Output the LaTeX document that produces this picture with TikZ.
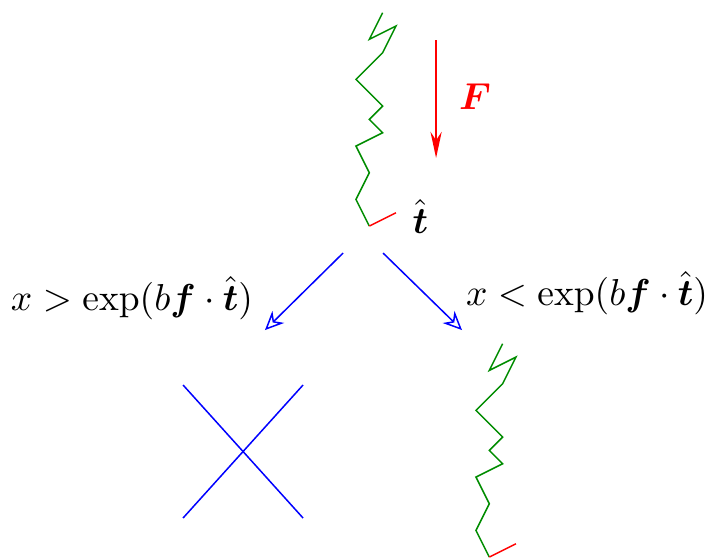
\documentclass[tikz,border=0pt]{standalone}
\usepackage{amsmath}
\usetikzlibrary{arrows.meta}
\definecolor{chain}{RGB}{0,140,0}

\newcommand{\polymer}{%
  \draw[chain] (0,0) -- (-1,2) -- (0,4) -- (-1,6) -- (1,7) -- (0,8) -- (1,9)
    -- (-1,11) -- (1,13) -- (2,15) -- (0,14) -- (1,16);
  \draw[red] (0,0) -- (2,1);}

\begin{document}
\begin{tikzpicture}[
    force/.style={-{Stealth[length=7pt,width=3pt]}, red},
    branch/.style={-{Stealth[open,length=5pt,width=4.5pt]}, blue},
    lbl/.style={inner sep=0pt}]
  \useasboundingbox (0,0) rectangle (6.656,-5.222);

  % -- chain under load ------------------------------------
  \begin{scope}[shift={(3.462,-2.119)}, x=0.125cm, y=0.125cm]
    \polymer
  \end{scope}
  \node[lbl] (that) at (3.94,-2.03) {$\hat{\boldsymbol{t}}$};

  \coordinate (ftop) at (4.088,-0.375);
  \coordinate (fbot) at (4.088,-1.481);
  \draw[force] (ftop) -- (fbot);
  \node[lbl, text=red] (flbl) at (4.453,-0.909) {$\boldsymbol{F}$};

  % -- the two outcomes ------------------------------------
  \coordinate (ls) at (3.216,-2.372);
  \coordinate (le) at (2.484,-3.094);
  \coordinate (rs) at (3.591,-2.372);
  \coordinate (re) at (4.331,-3.094);
  \draw[branch] (ls) -- (le);
  \draw[branch] (rs) -- (re);
  \node[lbl] (lcond) at (1.2375,-2.794) {$x > \exp(b\boldsymbol{f}\cdot\hat{\boldsymbol{t}})$};
  \node[lbl] (rcond) at (5.503,-2.747) {$x < \exp(b\boldsymbol{f}\cdot\hat{\boldsymbol{t}})$};

  % broken bond
  \coordinate (c1) at (1.716,-3.609);
  \coordinate (c2) at (2.841,-4.856);
  \coordinate (c3) at (2.841,-3.609);
  \coordinate (c4) at (1.716,-4.856);
  \draw[blue] (c1) -- (c2);
  \draw[blue] (c3) -- (c4);

  % intact chain
  \begin{scope}[shift={(4.587,-5.222)}, x=0.125cm, y=0.125cm]
    \polymer
  \end{scope}
\end{tikzpicture}
\end{document}
